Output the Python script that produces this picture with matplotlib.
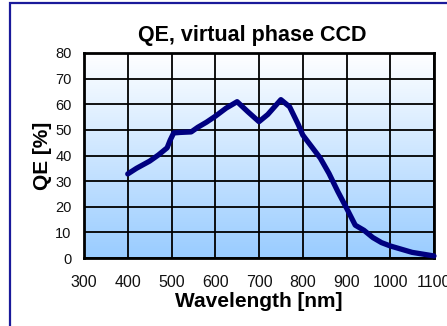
import numpy as np
import matplotlib
matplotlib.use("Agg")
import matplotlib.pyplot as plt
from matplotlib.colors import LinearSegmentedColormap
from matplotlib.patches import Rectangle

plt.rcParams['font.family'] = ['Liberation Sans', 'DejaVu Sans']

# QE curve
wavelength = [400, 420, 450, 470, 490, 497, 505, 520, 545, 560, 580, 600, 625, 650,
              675, 700, 720, 750, 770, 790, 800, 820, 840, 860, 880, 900, 920,
              940, 960, 980, 1000, 1050, 1100]
qe = [32.8, 35.0, 37.8, 40.2, 43.0, 46.0, 48.8, 49.0, 49.2, 51.0, 53.0, 55.3, 58.5, 61.0,
      57.0, 53.2, 56.0, 61.8, 59.0, 52.0, 48.0, 43.5, 39.0, 33.0, 26.0, 19.5, 12.8,
      10.8, 8.0, 6.0, 4.7, 2.2, 0.8]
x_ticks = list(range(300, 1101, 100))
y_ticks = list(range(0, 81, 10))

fig = plt.figure(figsize=(4.47, 3.26), dpi=100)

# frame in the corner of the picture (only left/top edges visible)
fig.patches.append(Rectangle((9.5 / 447, -0.1), 1.2, 1.1 - 2.5 / 326,
                             transform=fig.transFigure, fill=False,
                             edgecolor='#1a1a9a', linewidth=1.6))

ax = fig.add_axes([84 / 447, 1 - 258 / 326, 350 / 447, 205 / 326])

# white-to-blue background gradient
cmap = LinearSegmentedColormap.from_list('bg', ['#99ccff', '#ffffff'])
grad = np.linspace(0, 1, 256).reshape(-1, 1)
ax.imshow(grad, cmap=cmap, aspect='auto', origin='lower',
          extent=[300, 1100, 0, 80], zorder=0)

ax.plot(wavelength, qe, color='#000080', linewidth=3.8, solid_capstyle='round',
        solid_joinstyle='round', zorder=3, clip_on=False)

ax.set_xlim(300, 1100)
ax.set_ylim(0, 80)
ax.set_xticks(x_ticks)
ax.set_yticks(y_ticks)
ax.grid(True, color='black', linewidth=1.3, zorder=1)
ax.set_axisbelow(False)
for s in ax.spines.values():
    s.set_linewidth(2)
ax.tick_params(length=0, pad=9, colors='#111111')
ax.tick_params(axis='y', labelsize=10.5)
ax.tick_params(axis='x', labelsize=11.5, pad=12)

ax.set_title('QE, virtual phase CCD', fontsize=15.5, fontweight='bold', pad=9, x=0.48)
ax.set_xlabel('Wavelength [nm]', fontsize=15, fontweight='bold', labelpad=2)
ax.set_ylabel('QE [%]', fontsize=15, fontweight='bold', labelpad=2)

fig.savefig('out.png', dpi=100)
